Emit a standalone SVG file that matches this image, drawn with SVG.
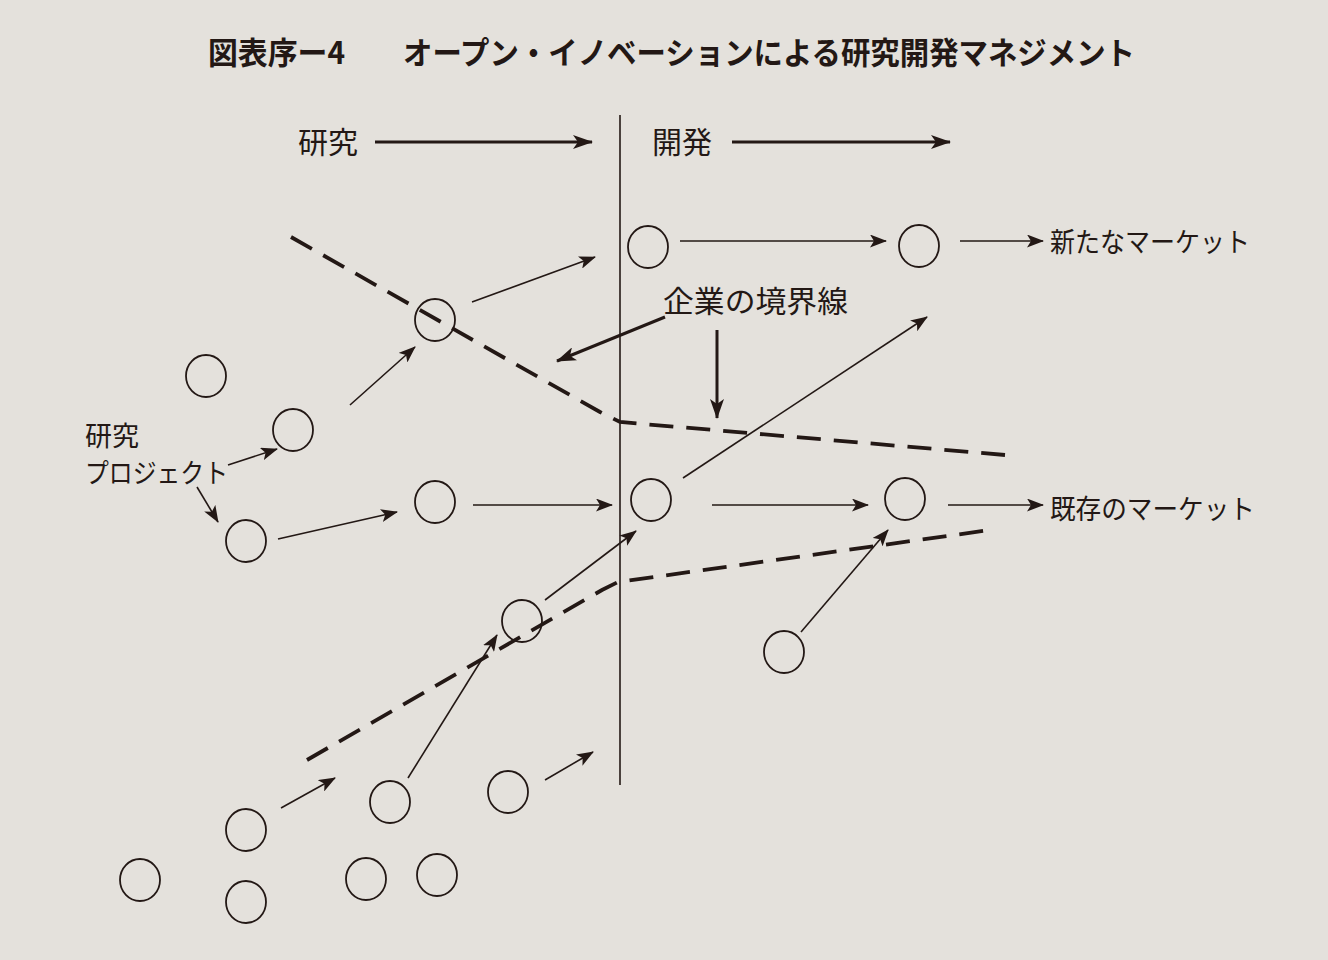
<svg xmlns="http://www.w3.org/2000/svg" width="1328" height="960" viewBox="0 0 1328 960">
<style>
.bg{fill:#e4e1dc}
.n{fill:none;stroke:#231815;stroke-width:1.8}
.a{fill:none;stroke:#231815;stroke-width:1.6}
.ah{fill:none;stroke:#231815;stroke-width:3}
.d{fill:none;stroke:#231815;stroke-width:3.8;stroke-dasharray:24 13}
.v{fill:none;stroke:#231815;stroke-width:1.6}
text{font-family:"Noto Sans CJK JP","Noto Sans",sans-serif;fill:#231815}
.t{font-size:31px;font-weight:bold}
.l{font-size:30px}
.m{font-size:27px}
</style>
<defs>
<marker id="ar" markerUnits="userSpaceOnUse" markerWidth="17" markerHeight="13" refX="16" refY="6.5" orient="auto" viewBox="0 0 17 13">
<path d="M0,0 L17,6.5 L0,13 L4,6.5 z" fill="#231815"/>
</marker>
<marker id="arb" markerUnits="userSpaceOnUse" markerWidth="20" markerHeight="14" refX="19" refY="7" orient="auto" viewBox="0 0 20 14">
<path d="M0,0 L20,7 L0,14 L5,7 z" fill="#231815"/>
</marker>
</defs>
<rect class="bg" x="0" y="0" width="1328" height="960"/>
<g id="title">
<text class="t" x="208" y="64" textLength="137" lengthAdjust="spacingAndGlyphs">図表序ー4</text>
<text class="t" x="403" y="64" textLength="732" lengthAdjust="spacingAndGlyphs">オープン・イノベーションによる研究開発マネジメント</text>
</g>
<g id="header">
<text class="l" x="298" y="153">研究</text>
<text class="l" x="652" y="153">開発</text>
<line class="v" x1="620" y1="115" x2="620" y2="785"/>
</g>
<g id="labels">
<text class="m" x="85" y="446">研究</text>
<text class="m" x="85" y="483" textLength="143" lengthAdjust="spacingAndGlyphs">プロジェクト</text>
<text class="l" x="663" y="312" textLength="185" lengthAdjust="spacingAndGlyphs">企業の境界線</text>
<text class="m" x="1050" y="252" textLength="200" lengthAdjust="spacingAndGlyphs">新たなマーケット</text>
<text class="m" x="1050" y="519" textLength="205" lengthAdjust="spacingAndGlyphs">既存のマーケット</text>
</g>
<g id="nodes">
<ellipse id="n1" class="n" cx="648" cy="247" rx="20" ry="21"/>
<ellipse id="n2" class="n" cx="919" cy="246" rx="20" ry="21"/>
<ellipse id="n3" class="n" cx="435" cy="320" rx="20" ry="21"/>
<ellipse id="n4" class="n" cx="206" cy="376" rx="20" ry="21"/>
<ellipse id="n5" class="n" cx="293" cy="430" rx="20" ry="21"/>
<ellipse id="n6" class="n" cx="246" cy="541" rx="20" ry="21"/>
<ellipse id="n7" class="n" cx="435" cy="502" rx="20" ry="21"/>
<ellipse id="n8" class="n" cx="651" cy="500" rx="20" ry="21"/>
<ellipse id="n9" class="n" cx="905" cy="499" rx="20" ry="21"/>
<ellipse id="n10" class="n" cx="522" cy="621" rx="20" ry="21"/>
<ellipse id="n11" class="n" cx="784" cy="652" rx="20" ry="21"/>
<ellipse id="n12" class="n" cx="246" cy="830" rx="20" ry="21"/>
<ellipse id="n13" class="n" cx="390" cy="802" rx="20" ry="21"/>
<ellipse id="n14" class="n" cx="508" cy="792" rx="20" ry="21"/>
<ellipse id="n15" class="n" cx="140" cy="880" rx="20" ry="21"/>
<ellipse id="n16" class="n" cx="246" cy="902" rx="20" ry="21"/>
<ellipse id="n17" class="n" cx="366" cy="879" rx="20" ry="21"/>
<ellipse id="n18" class="n" cx="437" cy="875" rx="20" ry="21"/>
</g>
<g id="boundaries">
<polyline class="d" points="291,237 600,412 620,422 1005,455"/>
<polyline class="d" points="307,760 602,590 618,582 990,530"/>
</g>
<g id="connectors">
<line class="ah" x1="375" y1="142" x2="592" y2="142" marker-end="url(#arb)"/>
<line class="ah" x1="732" y1="142" x2="950" y2="142" marker-end="url(#arb)"/>
<line class="ah" x1="665" y1="317" x2="557" y2="361" marker-end="url(#arb)"/>
<line class="ah" x1="717" y1="330" x2="717" y2="418" marker-end="url(#arb)"/>
<line class="a" x1="472" y1="302" x2="595" y2="257" marker-end="url(#ar)"/>
<line class="a" x1="680" y1="241" x2="886" y2="241" marker-end="url(#ar)"/>
<line class="a" x1="960" y1="241" x2="1043" y2="241" marker-end="url(#ar)"/>
<line class="a" x1="350" y1="405" x2="415" y2="347" marker-end="url(#ar)"/>
<line class="a" x1="228" y1="465" x2="277" y2="449" marker-end="url(#ar)"/>
<line class="a" x1="197" y1="487" x2="218" y2="522" marker-end="url(#ar)"/>
<line class="a" x1="278" y1="539" x2="397" y2="512" marker-end="url(#ar)"/>
<line class="a" x1="473" y1="505" x2="612" y2="505" marker-end="url(#ar)"/>
<line class="a" x1="712" y1="505" x2="868" y2="505" marker-end="url(#ar)"/>
<line class="a" x1="948" y1="505" x2="1043" y2="505" marker-end="url(#ar)"/>
<line class="a" x1="683" y1="478" x2="927" y2="317" marker-end="url(#ar)"/>
<line class="a" x1="545" y1="600" x2="636" y2="531" marker-end="url(#ar)"/>
<line class="a" x1="408" y1="778" x2="497" y2="635" marker-end="url(#ar)"/>
<line class="a" x1="281" y1="808" x2="335" y2="778" marker-end="url(#ar)"/>
<line class="a" x1="545" y1="780" x2="593" y2="752" marker-end="url(#ar)"/>
<line class="a" x1="801" y1="632" x2="888" y2="530" marker-end="url(#ar)"/>
</g>
</svg>
